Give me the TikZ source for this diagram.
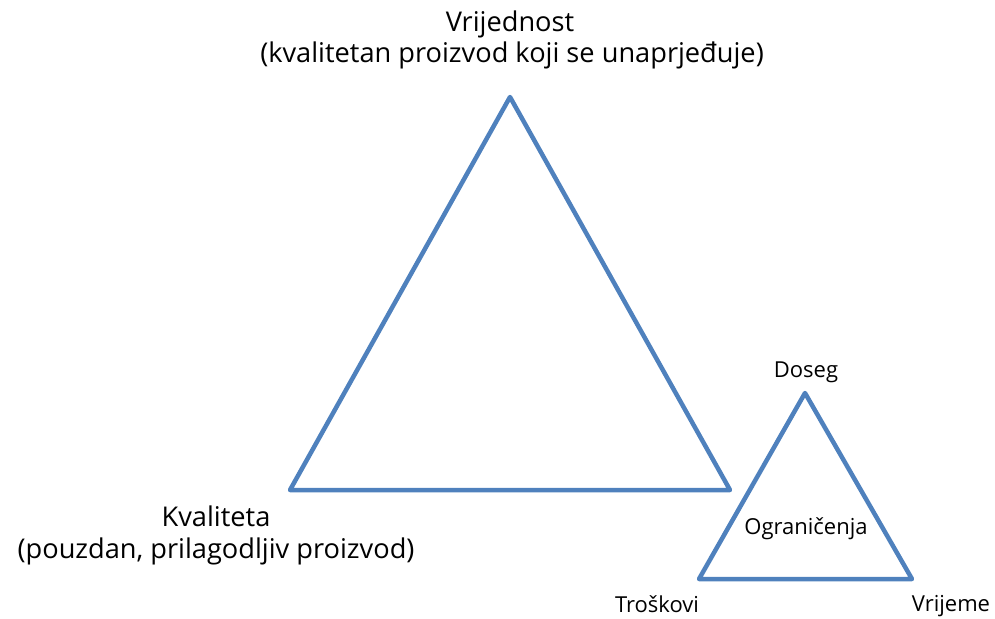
\documentclass[tikz,border=0pt]{standalone}
\usepackage{fontspec}
\setmainfont{Open Sans}
\definecolor{tri}{RGB}{79,129,189}
\begin{document}
\begin{tikzpicture}[x=1pt,y=-1pt,
  triline/.style={draw=tri,line width=4.5pt,line join=round,line cap=round},
  bigtxt/.style={font=\fontsize{27.2}{36}\selectfont,anchor=base,inner sep=0pt,align=center},
  smalltxt/.style={font=\fontsize{22}{24}\selectfont,anchor=base,inner sep=0pt}]
\useasboundingbox (0,0) rectangle (995,618);
% big triangle
\coordinate (A) at (510,97);
\coordinate (B) at (290,490);
\coordinate (C) at (730,490);
\draw[triline] (A) -- (B) -- (C) -- cycle;
% small triangle
\coordinate (D) at (805,393);
\coordinate (E) at (699,579);
\coordinate (F) at (912,579);
\draw[triline] (D) -- (E) -- (F) -- cycle;
% labels
\node[bigtxt] (v1) at (510,32) {Vrijednost};
\node[bigtxt] (v2) at (512,63) {(kvalitetan proizvod koji se unaprjeđuje)};
\node[bigtxt] (k1) at (216,526) {Kvaliteta};
\node[bigtxt] (k2) at (216,558) {(pouzdan, prilagodljiv proizvod)};
\node[smalltxt] (d) at (806,377) {Doseg};
\node[smalltxt] (o) at (806,534) {Ograničenja};
\node[smalltxt] (t) at (657,612) {Troškovi};
\node[smalltxt] (r) at (951,611) {Vrijeme};
\end{tikzpicture}
\end{document}
